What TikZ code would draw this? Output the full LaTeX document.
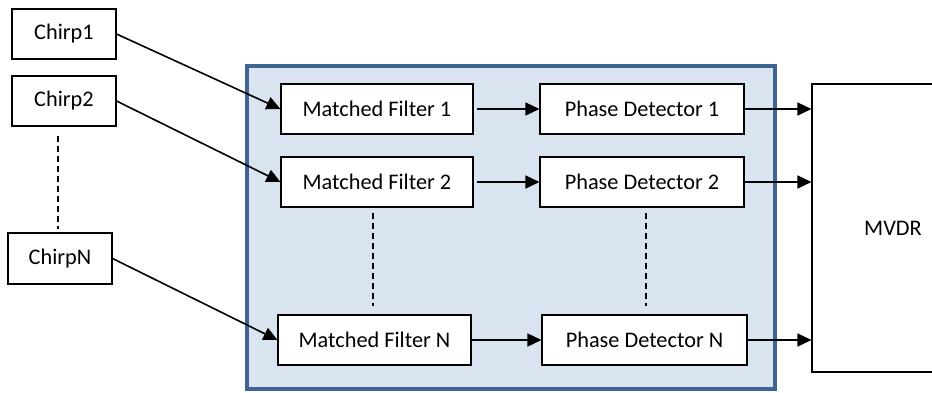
\documentclass[tikz,border=0pt]{standalone}
\usepackage{fontspec}
\setmainfont{Carlito}
\usetikzlibrary{arrows.meta}
\definecolor{frameblue}{HTML}{3F6393}
\definecolor{panelblue}{HTML}{DAE3F0}
\begin{document}
\begin{tikzpicture}[x=1pt,y=-1pt,
  blk/.style={draw=black, fill=white, line width=1.1pt, minimum height=50pt,
              inner sep=0pt, font=\fontsize{22.3}{26}\selectfont},
  arr/.style={-{Triangle[length=14pt,width=13pt]}, line width=1.6pt},
  dots/.style={line width=1.5pt, dash pattern=on 6pt off 4pt}]
\useasboundingbox (0,0) rectangle (932,392);

% processing panel
\node[draw=frameblue, fill=panelblue, line width=4pt, minimum width=528pt,
      minimum height=323pt, inner sep=0pt] (panel) at (511,227.5) {};

% chirp sources
\node[blk, minimum width=104pt] (c1) at (64,34) {Chirp1};
\node[blk, minimum width=104pt] (c2) at (64,101) {Chirp2};
\node[blk, minimum width=104pt, minimum height=51pt] (cn) at (60,258.5) {ChirpN};

% matched filters
\node[blk, minimum width=192pt] (mf1) at (377,109) {Matched Filter 1};
\node[blk, minimum width=192pt] (mf2) at (377,182) {Matched Filter 2};
\node[blk, minimum width=193pt] (mfn) at (374.5,340) {Matched Filter N};

% phase detectors
\node[blk, minimum width=204pt] (pd1) at (642,109) {Phase Detector 1};
\node[blk, minimum width=204pt] (pd2) at (642,182) {Phase Detector 2};
\node[blk, minimum width=205pt] (pdn) at (644.5,340) {Phase Detector N};

% beamformer
\node[blk, minimum width=162pt, minimum height=288pt] (mvdr) at (893,228) {MVDR};

% chirps into filters
\draw[arr] (c1.east) -- (mf1.west);
\draw[arr] (c2.east) -- (mf2.west);
\draw[arr] (cn.east) -- (mfn.west);

% filters into detectors
\draw[arr, shorten <=3pt] (mf1.east) -- (pd1.west);
\draw[arr, shorten <=3pt] (mf2.east) -- (pd2.west);
\draw[arr] (mfn.east) -- (pdn.west);

% detectors into MVDR
\draw[arr] (pd1.east) -- (mvdr.west |- pd1.east);
\draw[arr] (pd2.east) -- (mvdr.west |- pd2.east);
\draw[arr] (pdn.east) -- (mvdr.west |- pdn.east);

% continuation marks
\draw[dots, shorten <=9pt, shorten >=3pt] ([xshift=-6pt]c2.south) -- ([xshift=-2pt]cn.north);
\draw[dots, shorten <=5pt, shorten >=8pt] ([xshift=-4pt]mf2.south) -- ([xshift=-1.5pt]mfn.north);
\draw[dots, shorten <=5pt, shorten >=8pt] ([xshift=4pt]pd2.south) -- ([xshift=1.5pt]pdn.north);
\end{tikzpicture}
\end{document}
